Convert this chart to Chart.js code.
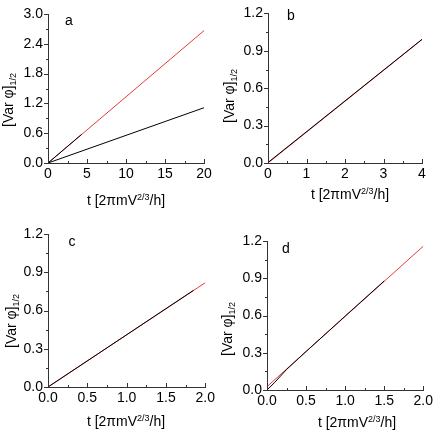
<!DOCTYPE html>
<html>
<head>
<meta charset="utf-8">
<script src="https://cdn.jsdelivr.net/npm/chart.js@4/dist/chart.umd.min.js"></script>
<style>
  body { margin: 0; background: #fff; }
  #wrap { position: relative; width: 436px; height: 432px; }
  canvas { position: absolute; }
</style>
</head>
<body>
<div id="wrap">
  <canvas id="pa" width="218" height="216" style="left:0;top:0"></canvas>
  <canvas id="pb" width="218" height="216" style="left:218px;top:0"></canvas>
  <canvas id="pc" width="218" height="216" style="left:0;top:216px"></canvas>
  <canvas id="pd" width="218" height="216" style="left:218px;top:216px"></canvas>
</div>
<script>
// panel a
const aXTicks = [0, 5, 10, 15, 20];
const aYTicks = [0, 0.6, 1.2, 1.8, 2.4, 3.0];
const aUpperX = [0, 4.3];
const aUpperY = [0, 0.575];
const aUpperFitX = [0, 20];
const aUpperFitY = [0, 2.665];
const aLowerX = [0, 20];
const aLowerY = [0, 1.113];

// panel b
const bXTicks = [0, 1, 2, 3, 4];
const bYTicks = [0, 0.3, 0.6, 0.9, 1.2];
const bX = [0, 4];
const bY = [0.004, 0.992];
const bFitX = [0, 4];
const bFitY = [0, 0.99];

// panel c
const cXTicks = [0, 0.5, 1.0, 1.5, 2.0];
const cYTicks = [0, 0.3, 0.6, 0.9, 1.2];
const cX = [0, 1.85];
const cY = [0, 0.758];
const cFitX = [0, 2.0];
const cFitY = [0, 0.818];

// panel d
const dXTicks = [0, 0.5, 1.0, 1.5, 2.0];
const dYTicks = [0, 0.3, 0.6, 0.9, 1.2];
const dX = [0, 0.1, 0.25, 0.5, 1.0, 1.5];
const dY = [0, 0.062, 0.165, 0.31, 0.595, 0.878];
const dFitX = [0, 2.0];
const dFitY = [0.027, 1.158];

const FONT = '"Liberation Sans", Arial, sans-serif';
const AXIS = '#333';
const RED = '#e8393a';

function pts(xs, ys) {
  return xs.map((x, i) => ({ x: x, y: ys[i] }));
}

// draws text with a superscript part, starting at (x, y) baseline
function drawParts(ctx, parts, x, y) {
  parts.forEach(p => {
    ctx.font = (p.sup ? '9px ' : '14px ') + FONT;
    ctx.fillText(p.t, x, y + (p.dy || 0));
    x += ctx.measureText(p.t).width;
  });
}
function partsWidth(ctx, parts) {
  let w = 0;
  parts.forEach(p => {
    ctx.font = (p.sup ? '9px ' : '14px ') + FONT;
    w += ctx.measureText(p.t).width;
  });
  return w;
}

const decoPlugin = {
  id: 'deco',
  afterDraw(chart, args, o) {
    const ctx = chart.ctx;
    const xs = chart.scales.x, ys = chart.scales.y;
    const area = chart.chartArea;
    ctx.save();
    ctx.strokeStyle = AXIS;
    ctx.lineWidth = 1;
    ctx.beginPath();
    // y ticks, pointing out
    o.yTicks.forEach((v, i) => {
      const p = Math.round(ys.getPixelForValue(v)) + 0.5;
      ctx.moveTo(area.left - 4, p); ctx.lineTo(area.left, p);
      if (i < o.yTicks.length - 1) {
        const m = Math.round(ys.getPixelForValue((v + o.yTicks[i + 1]) / 2)) + 0.5;
        ctx.moveTo(area.left - 2, m); ctx.lineTo(area.left, m);
      }
    });
    // x ticks, pointing in
    o.xTicks.forEach((v, i) => {
      const p = Math.round(xs.getPixelForValue(v)) + 0.5;
      ctx.moveTo(p, area.bottom); ctx.lineTo(p, area.bottom - 4);
      if (i < o.xTicks.length - 1) {
        const m = Math.round(xs.getPixelForValue((v + o.xTicks[i + 1]) / 2)) + 0.5;
        ctx.moveTo(m, area.bottom); ctx.lineTo(m, area.bottom - 2);
      }
    });
    ctx.stroke();

    ctx.fillStyle = '#000';
    // panel letter
    ctx.font = '14px ' + FONT;
    ctx.textAlign = 'center';
    ctx.textBaseline = 'middle';
    ctx.fillText(o.letter, o.letterPos[0], o.letterPos[1]);

    ctx.textAlign = 'left';
    ctx.textBaseline = 'alphabetic';
    // x title
    const xParts = [{ t: 't [2πmV' }, { t: '2/3', sup: true, dy: -5 }, { t: '/h]' }];
    const w = partsWidth(ctx, xParts);
    drawParts(ctx, xParts, o.xTitle[0] - w / 2, o.xTitle[1] + 4);
    // y title, rotated
    ctx.translate(o.yTitle[0], o.yTitle[1]);
    ctx.rotate(-Math.PI / 2);
    drawParts(ctx, [{ t: '[Var φ]' }, { t: '1/2', sup: true, dy: 3 }], 0, 0);
    ctx.restore();
  }
};

function panel(id, box, xTicks, yTicks, xDigits, series, deco) {
  new Chart(document.getElementById(id), {
    type: 'scatter',
    data: {
      datasets: series.map(s => ({
        data: s.data,
        showLine: true,
        borderColor: s.color,
        borderWidth: 1,
        pointRadius: 0,
        fill: false
      }))
    },
    options: {
      responsive: false,
      animation: false,
      devicePixelRatio: 1,
      layout: { padding: { left: 0, top: box.t, right: 218 - box.r, bottom: 0 } },
      plugins: {
        legend: { display: false },
        tooltip: { enabled: false },
        deco: Object.assign({ xTicks: xTicks, yTicks: yTicks }, deco)
      },
      scales: {
        x: {
          type: 'linear',
          min: xTicks[0],
          max: xTicks[xTicks.length - 1],
          afterBuildTicks: s => { s.ticks = xTicks.map(v => ({ value: v })); },
          afterFit: s => { s.height = 216 - box.b; },
          ticks: {
            autoSkip: false, maxRotation: 0, padding: 3, color: '#000',
            font: { family: FONT, size: 14 },
            callback: v => v.toFixed(xDigits)
          },
          grid: { display: false, drawTicks: false },
          border: { color: AXIS, width: 1 }
        },
        y: {
          type: 'linear',
          min: yTicks[0],
          max: yTicks[yTicks.length - 1],
          afterBuildTicks: s => { s.ticks = yTicks.map(v => ({ value: v })); },
          afterFit: s => { s.width = box.l; },
          ticks: {
            autoSkip: false, padding: 5, color: '#000',
            font: { family: FONT, size: 14 },
            callback: v => v.toFixed(1)
          },
          grid: { display: false, drawTicks: false },
          border: { color: AXIS, width: 1 }
        }
      }
    },
    plugins: [decoPlugin]
  });
}

// black data first so it is drawn on top of the red fits
panel('pa', { l: 48, r: 204, t: 14, b: 163 }, aXTicks, aYTicks, 0, [
  { data: pts(aUpperX, aUpperY), color: '#000' },
  { data: pts(aLowerX, aLowerY), color: '#000' },
  { data: pts(aUpperFitX, aUpperFitY), color: RED }
], { letter: 'a', letterPos: [69, 21], xTitle: [126, 201], yTitle: [13, 127] });

panel('pb', { l: 50, r: 204, t: 7, b: 163 }, bXTicks, bYTicks, 0, [
  { data: pts(bX, bY), color: '#000' },
  { data: pts(bFitX, bFitY), color: RED }
], { letter: 'b', letterPos: [73, 16], xTitle: [132, 195], yTitle: [16, 123] });

panel('pc', { l: 48, r: 207, t: 18, b: 171 }, cXTicks, cYTicks, 1, [
  { data: pts(cX, cY), color: '#000' },
  { data: pts(cFitX, cFitY), color: RED }
], { letter: 'c', letterPos: [72, 26], xTitle: [126, 206], yTitle: [16, 132] });

panel('pd', { l: 49, r: 208, t: 25, b: 174 }, dXTicks, dYTicks, 1, [
  { data: pts(dX, dY), color: '#000' },
  { data: pts(dFitX, dFitY), color: RED }
], { letter: 'd', letterPos: [68, 33], xTitle: [139, 207], yTitle: [14, 140] });
</script>
</body>
</html>
